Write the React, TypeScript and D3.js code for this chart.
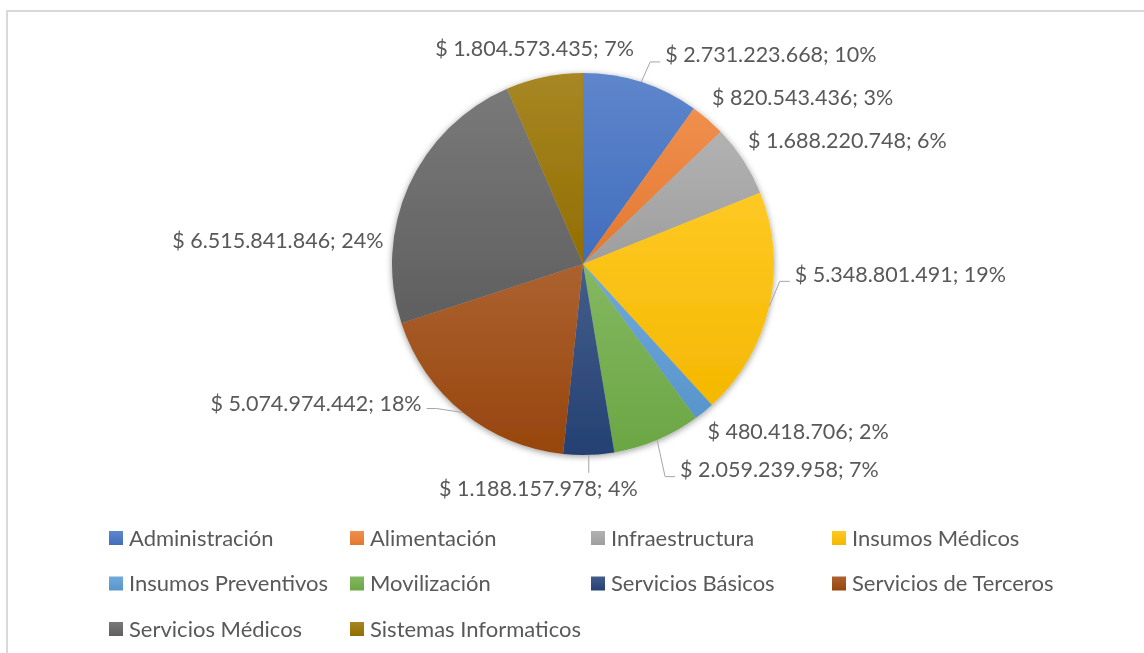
import * as d3 from "d3";

const categories = [
  "Administración",
  "Alimentación",
  "Infraestructura",
  "Insumos Médicos",
  "Insumos Preventivos",
  "Movilización",
  "Servicios Básicos",
  "Servicios de Terceros",
  "Servicios Médicos",
  "Sistemas Informaticos",
];

const amounts = [
  2731223668, 820543436, 1688220748, 5348801491, 480418706, 2059239958,
  1188157978, 5074974442, 6515841846, 1804573435,
];

const colors = [
  "#4472C4", "#ED7D31", "#A5A5A5", "#FFC000", "#5B9BD5",
  "#70AD47", "#264478", "#9E480E", "#636363", "#997300",
];

// label placement relative to the slice's outer anchor point (Excel "best fit" look)
const labelLayout: any[] = [
  { anchor: "start", dx: 18.5, dy: -10, leader: true },
  { anchor: "start", dx: -7.6, dy: -8, leader: false },
  { anchor: "start", dx: -10.5, dy: -10.5, leader: false },
  { anchor: "start", dx: 8, dy: -36, leader: true },
  { anchor: "start", dx: -8, dy: 6, leader: false },
  { anchor: "start", dx: 16, dy: 13, leader: true },
  { anchor: "middle", dx: -51, dy: 16, leader: true },
  { anchor: "end", dx: -30, dy: -23, leader: true },
  { anchor: "end", dx: -9, dy: 62, leader: false },
  { anchor: "middle", dx: -6, dy: -11, leader: false },
];

const W = 1144;
const H = 653;
const cx = 583;
const cy = 264;
const radius = 191;
const font = "Lato, 'Open Sans', sans-serif";
const textColor = "#595959";
const fontSize = 21.5;
const legendFontSize = 22;

const locale = d3.formatLocale({
  decimal: ",",
  thousands: ".",
  grouping: [3],
  currency: ["$ ", ""],
});
const money = locale.format("$,.0f");

export default function App() {
  const total = d3.sum(amounts);
  const pie = d3
    .pie<number>()
    .sort(null)
    .value((d) => d)
    .startAngle(0)
    .endAngle(2 * Math.PI);
  const arcs = pie(amounts);
  const arcGen: any = d3.arc().innerRadius(0).outerRadius(radius);

  const pt = (a: number, r: number) => [cx + r * Math.sin(a), cy - r * Math.cos(a)];

  const legendX = d3.scaleLinear().domain([0, 1]).range([109, 350]);
  const legendY = d3.scaleLinear().domain([0, 1]).range([538, 583.5]);

  return (
    <svg
      width={W}
      height={H}
      style={{ position: "absolute", left: 0, top: 0, background: "#fff" }}
    >
      <defs>
        {colors.map((c, i) => (
          <linearGradient key={i} id={"g" + i} x1="0" y1="0" x2="0" y2="1">
            <stop offset="0" stopColor={d3.interpolateRgb(c, "#ffffff")(0.14)} />
            <stop offset="1" stopColor={d3.rgb(c).darker(0.12).formatHex()} />
          </linearGradient>
        ))}
        <filter id="shadow" x="-20%" y="-20%" width="140%" height="140%">
          <feDropShadow dx="0" dy="1.5" stdDeviation="3" floodColor="#000" floodOpacity="0.4" />
        </filter>
      </defs>

      <rect x={7} y={11} width={W + 50} height={H + 50} fill="none" stroke="#d9d9d9" strokeWidth={2} />

      <g filter="url(#shadow)">
        {arcs.map((a, i) => (
          <path
            key={i}
            d={arcGen(a)}
            transform={`translate(${cx},${cy})`}
            fill={`url(#g${i})`}
          />
        ))}
      </g>

      {arcs.map((a, i) => {
        const mid = (a.startAngle + a.endAngle) / 2;
        const lay = labelLayout[i];
        const [ax, ay] = pt(mid, radius + 18);
        const lx = ax + lay.dx;
        const ly = ay + lay.dy;
        const pct = Math.round((a.value / total) * 100);
        let leader = null;
        if (lay.leader) {
          const [sx, sy] = pt(mid, radius);
          let d = "";
          if (lay.anchor === "start") {
            const ex = lx - 5;
            const ey = ly + 7;
            d = `M${sx},${sy}L${ex - 10},${ey}L${ex},${ey}`;
          } else if (lay.anchor === "end") {
            const ex = lx + 5;
            const ey = ly + 5;
            d = `M${sx},${sy}L${ex + 10},${ey}L${ex},${ey}`;
          } else {
            d = `M${sx},${sy}L${sx},${ly - 16}`;
          }
          leader = <path d={d} fill="none" stroke="#a6a6a6" strokeWidth={1} />;
        }
        return (
          <g key={i}>
            {leader}
            <text
              x={lx}
              y={ly}
              dy="0.35em"
              textAnchor={lay.anchor}
              fontFamily={font}
              fontSize={fontSize}
              fill={textColor}
            >
              {`${money(a.value)}; ${pct}%`}
            </text>
          </g>
        );
      })}

      {categories.map((c, i) => {
        const col = i % 4;
        const row = Math.floor(i / 4);
        const x = legendX(col);
        const y = legendY(row);
        return (
          <g key={c}>
            <rect x={x} y={y - 7} width={14} height={14} fill={`url(#g${i})`} />
            <text
              x={x + 20}
              y={y}
              dy="0.35em"
              fontFamily={font}
              fontSize={legendFontSize}
              fill={textColor}
            >
              {c}
            </text>
          </g>
        );
      })}
    </svg>
  );
}
